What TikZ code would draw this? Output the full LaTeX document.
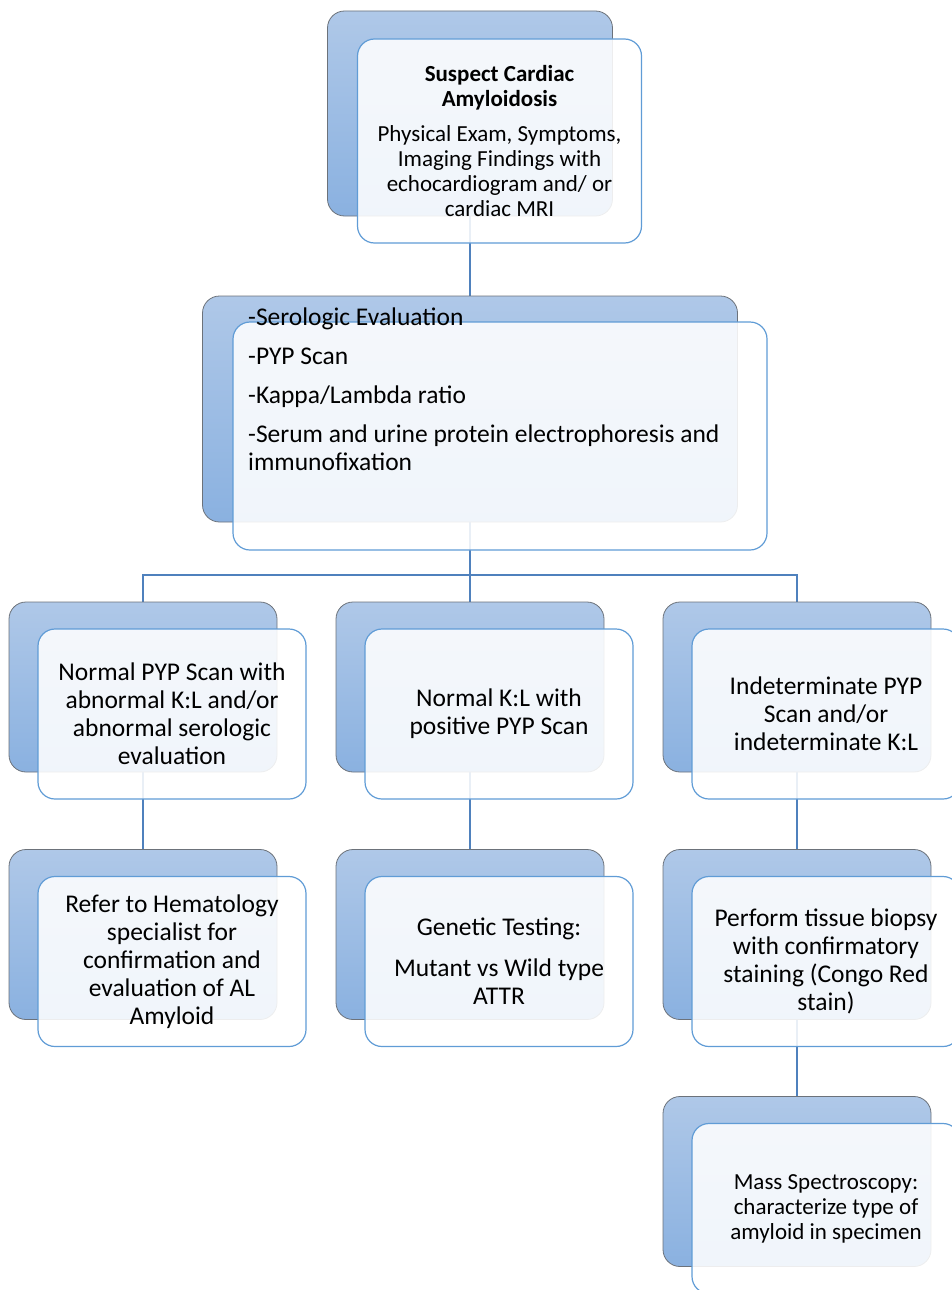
\documentclass[tikz,border=0pt]{standalone}
\usepackage{fontspec}
\setmainfont{Carlito}
\usetikzlibrary{backgrounds}

\definecolor{backtop}{RGB}{175,200,232}
\definecolor{backbottom}{RGB}{138,177,224}
\definecolor{backline}{RGB}{108,114,122}
\definecolor{frontline}{RGB}{96,156,214}
\definecolor{linkblue}{RGB}{79,129,189}

\tikzset{
  backbox/.style={rectangle, rounded corners=17pt, draw=backline, line width=0.8pt,
    top color=backtop, bottom color=backbottom, inner sep=0pt,
    minimum width=268pt, minimum height=170pt},
  frontbox/.style={rectangle, rounded corners=17pt, draw=frontline, line width=1.2pt,
    fill=white, fill opacity=0.88, text opacity=1, align=center, inner sep=0pt,
    minimum width=268pt, minimum height=170pt,
    font=\fontsize{25.5}{28}\selectfont},
  link/.style={draw=linkblue, line width=2.7pt}
}

\begin{document}
\begin{tikzpicture}[x=1pt, y=-1pt]

\useasboundingbox (0, 0) rectangle (952, 1290);
\clip (0, 0) rectangle (952, 1290);

\node[backbox, minimum width=285pt, minimum height=205pt] (suspect) at (470, 113.5) {};
\node[frontbox, minimum width=284pt, minimum height=204pt, font=\fontsize{23}{25}\selectfont] (suspect_front) at (499.5, 141)
  {\textbf{Suspect Cardiac}\\\textbf{Amyloidosis}\\[10pt]Physical Exam, Symptoms,\\Imaging Findings with\\echocardiogram and/ or\\cardiac MRI};

\node[backbox, minimum width=535pt, minimum height=226pt] (serology) at (470, 409) {};
\node[frontbox, minimum width=534pt, minimum height=228pt] (serology_front) at (500, 436) {};
\node[anchor=north west, align=left, inner sep=0pt, font=\fontsize{25.5}{28}\selectfont] (serology_text) at (248, 308)
  {-Serologic Evaluation\\[11pt]-PYP Scan\\[11pt]-Kappa/Lambda ratio\\[11pt]-Serum and urine protein electrophoresis and\\immunofixation};

\node[backbox] (pyp_normal) at (143, 687) {};
\node[frontbox] (pyp_normal_front) at (172, 714)
  {Normal PYP Scan with\\abnormal K:L and/or\\abnormal serologic\\evaluation};
\node[backbox] (kl_normal) at (470, 687) {};
\node[frontbox] (kl_normal_front) at (499, 714)
  {Normal K:L with\\positive PYP Scan};
\node[backbox] (indeterminate) at (797, 687) {};
\node[frontbox] (indeterminate_front) at (826, 714)
  {Indeterminate PYP\\Scan and/or\\indeterminate K:L};

\node[backbox] (hematology) at (143, 934.5) {};
\node[frontbox] (hematology_front) at (172, 961.5)
  {Refer to Hematology\\specialist for\\confirmation and\\evaluation of AL\\Amyloid};
\node[backbox] (genetic) at (470, 934.5) {};
\node[frontbox] (genetic_front) at (499, 961.5)
  {Genetic Testing:\\[13pt]Mutant vs Wild type\\ATTR};
\node[backbox] (biopsy) at (797, 934.5) {};
\node[frontbox] (biopsy_front) at (826, 961.5)
  {Perform tissue biopsy\\with confirmatory\\staining (Congo Red\\stain)};

\node[backbox] (mass_spec) at (797, 1181.5) {};
\node[frontbox, font=\fontsize{23}{25}\selectfont] (mass_spec_front) at (826, 1208.5)
  {Mass Spectroscopy:\\characterize type of\\amyloid in specimen};

\coordinate (split) at (470, 575);

\begin{pgfonlayer}{background}
\draw[link] (suspect) -- (serology);
\draw[link] (serology) -- (split);
\draw[link] (split) -| (pyp_normal);
\draw[link] (split) -- (kl_normal);
\draw[link] (split) -| (indeterminate);
\draw[link] (pyp_normal) -- (hematology);
\draw[link] (kl_normal) -- (genetic);
\draw[link] (indeterminate) -- (biopsy);
\draw[link] (biopsy) -- (mass_spec);
\end{pgfonlayer}

\end{tikzpicture}
\end{document}
